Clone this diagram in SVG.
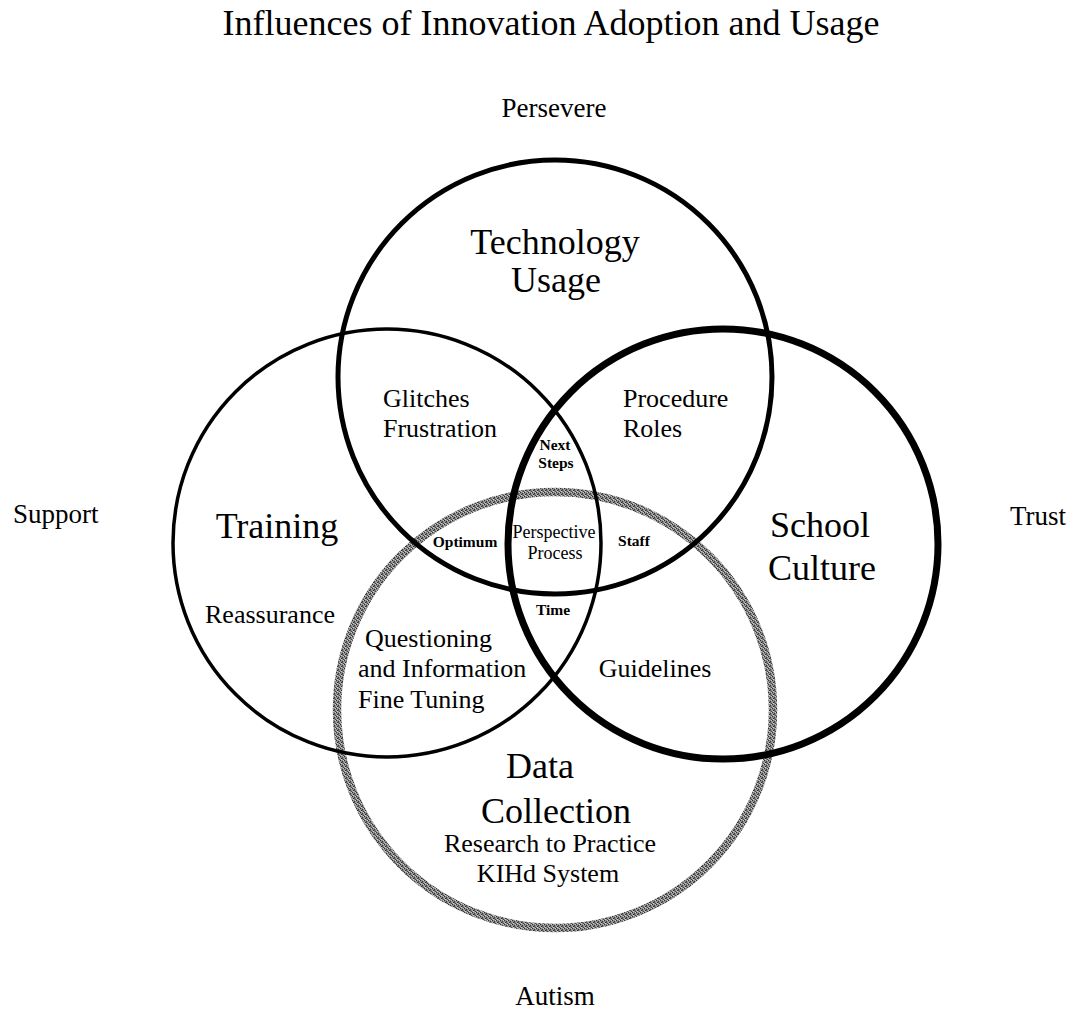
<svg xmlns="http://www.w3.org/2000/svg" width="1077" height="1012" viewBox="0 0 1077 1012">
<style>
  text { font-family: "Liberation Serif", "Times New Roman", serif; fill: #000; }
  .title { font-size: 36px; text-anchor: middle; }
  .outer { font-size: 27px; }
  .big { font-size: 36px; text-anchor: middle; }
  .mid { font-size: 26px; }
  .midc { font-size: 26px; text-anchor: middle; }
  .small { font-size: 15.5px; font-weight: bold; text-anchor: middle; }
  .pp { font-size: 18px; text-anchor: middle; }
  .ring { fill: none; stroke: #000; }
</style>
<defs>
  <pattern id="grain" width="4" height="4" patternUnits="userSpaceOnUse">
    <rect width="4" height="4" fill="#8c8c8c"/>
    <rect x="0" y="0" width="1" height="1" fill="#2e2e2e"/>
    <rect x="2" y="1" width="1" height="1" fill="#3c3c3c"/>
    <rect x="1" y="2" width="1" height="1" fill="#2a2a2a"/>
    <rect x="3" y="3" width="1" height="1" fill="#444"/>
    <rect x="3" y="0" width="1" height="1" fill="#c8c8c8"/>
    <rect x="1" y="3" width="1" height="1" fill="#d0d0d0"/>
    <rect x="2" y="2" width="1" height="1" fill="#5a5a5a"/>
    <rect x="0" y="2" width="1" height="1" fill="#b4b4b4"/>
  </pattern>
</defs>
<rect width="1077" height="1012" fill="#fff"/>

<text class="title" x="551" y="35">Influences of Innovation Adoption and Usage</text>
<text class="outer" x="554" y="117" text-anchor="middle">Persevere</text>
<text class="outer" x="13" y="523">Support</text>
<text class="outer" x="1010" y="525">Trust</text>
<text class="outer" x="555" y="1005" text-anchor="middle">Autism</text>

<g id="data-collection">
  <circle cx="555" cy="710" r="218" fill="none" stroke="url(#grain)" stroke-width="8.5"/>
  <text class="big" x="540" y="778">Data</text>
  <text class="big" x="556" y="823">Collection</text>
  <text class="midc" x="550" y="852">Research to Practice</text>
  <text class="midc" x="548" y="882">KIHd System</text>
</g>

<g id="training">
  <circle class="ring" cx="387" cy="543" r="214" stroke-width="3.5"/>
  <text class="big" x="277" y="538">Training</text>
  <text class="midc" x="270" y="623">Reassurance</text>
</g>

<g id="school-culture">
  <circle class="ring" cx="723" cy="544" r="215" stroke-width="7"/>
  <text class="big" x="820" y="537">School</text>
  <text class="big" x="822" y="580">Culture</text>
</g>

<g id="technology-usage">
  <circle class="ring" cx="555" cy="377" r="217" stroke-width="5"/>
  <text class="big" x="555" y="254">Technology</text>
  <text class="big" x="556" y="292">Usage</text>
</g>

<g id="glitches-frustration">
  <text class="mid" x="383" y="407">Glitches</text>
  <text class="mid" x="383" y="437">Frustration</text>
</g>
<g id="procedure-roles">
  <text class="mid" x="623" y="407">Procedure</text>
  <text class="mid" x="623" y="437">Roles</text>
</g>
<g id="next-steps">
  <text class="small" x="555" y="450">Next</text>
  <text class="small" x="556" y="468">Steps</text>
</g>
<g id="optimum">
  <text class="small" x="465" y="547">Optimum</text>
</g>
<g id="perspective-process">
  <text class="pp" x="554" y="538">Perspective</text>
  <text class="pp" x="555" y="559">Process</text>
</g>
<g id="staff">
  <text class="small" x="634" y="546">Staff</text>
</g>
<g id="time">
  <text class="small" x="553" y="615">Time</text>
</g>
<g id="questioning">
  <text class="mid" x="365" y="647">Questioning</text>
  <text class="mid" x="358" y="677">and Information</text>
  <text class="mid" x="358" y="708">Fine Tuning</text>
</g>
<g id="guidelines">
  <text class="midc" x="655" y="677">Guidelines</text>
</g>
<g id="connectors"></g>
</svg>
